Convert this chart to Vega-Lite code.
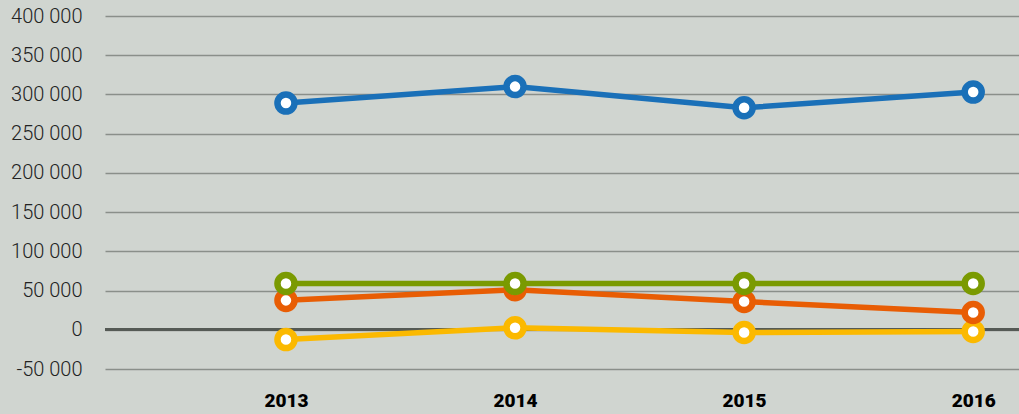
{
  "$schema": "https://vega.github.io/schema/vega-lite/v6.json",
  "width": 914,
  "height": 353,
  "autosize": {"type": "none"},
  "padding": {"left": 105, "top": 16, "right": 0, "bottom": 45},
  "background": "#d0d5d0",
  "config": {
    "view": {"stroke": null},
    "locale": {"number": {"decimal": ",", "thousands": " ", "grouping": [3], "currency": ["", ""], "minus": "-"}},
    "font": "Roboto"
  },
  "data": {
    "values": [
      {"year": 2013, "series": "Yellow", "order": 1, "value": -12500},
      {"year": 2014, "series": "Yellow", "order": 1, "value": 2500},
      {"year": 2015, "series": "Yellow", "order": 1, "value": -3500},
      {"year": 2016, "series": "Yellow", "order": 1, "value": -2200},
      {"year": 2013, "series": "Orange", "order": 2, "value": 37500},
      {"year": 2014, "series": "Orange", "order": 2, "value": 51000},
      {"year": 2015, "series": "Orange", "order": 2, "value": 36000},
      {"year": 2016, "series": "Orange", "order": 2, "value": 22000},
      {"year": 2013, "series": "Green", "order": 3, "value": 59000},
      {"year": 2014, "series": "Green", "order": 3, "value": 59000},
      {"year": 2015, "series": "Green", "order": 3, "value": 59000},
      {"year": 2016, "series": "Green", "order": 3, "value": 59000},
      {"year": 2013, "series": "Blue", "order": 4, "value": 289000},
      {"year": 2014, "series": "Blue", "order": 4, "value": 310000},
      {"year": 2015, "series": "Blue", "order": 4, "value": 283000},
      {"year": 2016, "series": "Blue", "order": 4, "value": 303000}
    ]
  },
  "encoding": {
    "x": {
      "field": "year", "type": "quantitative",
      "scale": {"domain": [2012.21, 2016.2], "nice": false, "zero": false},
      "axis": {"values": [2013, 2014, 2015, 2016], "format": "d", "title": null, "grid": false, "domain": false, "ticks": false,
               "labelFontSize": 19, "labelFontWeight": 900, "labelColor": "#000000", "labelPadding": 22, "labelFlush": false}
    },
    "y": {
      "field": "value", "type": "quantitative",
      "scale": {"domain": [-50000, 400000], "nice": false, "zero": false},
      "axis": {"values": [-50000, 0, 50000, 100000, 150000, 200000, 250000, 300000, 350000, 400000], "format": ",d", "title": null,
               "domain": false, "ticks": false, "grid": true, "gridColor": "#8a8f8a", "gridWidth": 1.5, "gridOpacity": 1,
               "labelFontSize": 20, "labelFontWeight": 300, "labelColor": "#222222", "labelPadding": 23}
    },
    "color": {
      "field": "series", "type": "nominal",
      "scale": {"domain": ["Yellow", "Orange", "Green", "Blue"], "range": ["#fbb900", "#e85d04", "#7a9a01", "#1a70b8"]},
      "legend": null
    }
  },
  "layer": [
    {
      "mark": {"type": "rule", "color": "#555a55", "strokeWidth": 2.5},
      "encoding": {"y": {"datum": 0}, "x": null, "color": null}
    },
    {
      "mark": {"type": "line", "strokeWidth": 5.5},
      "encoding": {"detail": {"field": "series"}, "order": {"field": "year"}}
    },
    {
      "mark": {"type": "point", "shape": "circle", "filled": false, "fill": "white", "fillOpacity": 1, "strokeWidth": 6.5, "size": 290, "opacity": 1},
      "encoding": {"stroke": {"field": "series", "type": "nominal", "scale": {"domain": ["Yellow", "Orange", "Green", "Blue"], "range": ["#fbb900", "#e85d04", "#7a9a01", "#1a70b8"]}, "legend": null}, "zindex": {"field": "order"}}
    }
  ]
}
